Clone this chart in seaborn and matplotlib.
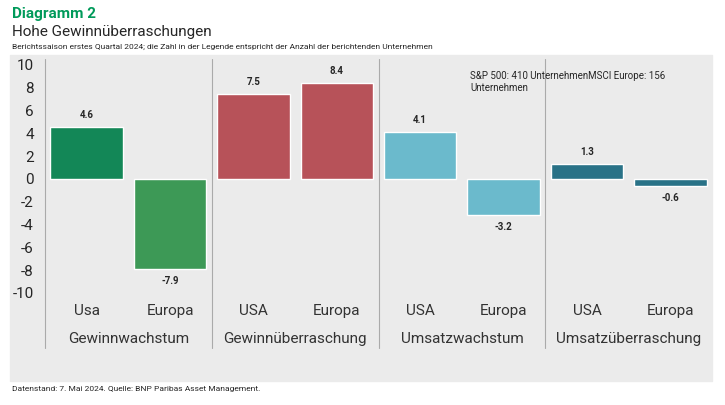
import matplotlib.pyplot as plt
import seaborn as sns
import pandas as pd
from matplotlib.patches import Rectangle

sns.set_style("white")
plt.rcParams["font.family"] = ["Roboto", "DejaVu Sans"]

groups = ["Gewinnwachstum", "Gewinnüberraschung", "Umsatzwachstum", "Umsatzüberraschung"]
regions = ["Usa", "Europa", "USA", "Europa", "USA", "Europa", "USA", "Europa"]
values = [4.6, -7.9, 7.5, 8.4, 4.1, -3.2, 1.3, -0.6]
bar_colors = ["#009a5a", "#2ea84f", "#c8414b", "#c8414b", "#5bc4dc", "#5bc4dc", "#1a7a96", "#1a7a96"]

df = pd.DataFrame({"pos": [str(i) for i in range(len(values))], "value": values})

fig = plt.figure(figsize=(7.25, 4.05), dpi=100)
bg = Rectangle((10 / 725, 1 - 381 / 405), 702 / 725, 326 / 405,
               transform=fig.transFigure, color="#ebebeb", zorder=-10)
fig.add_artist(bg)
ax = fig.add_axes([45 / 725, 1 - 293 / 405, 667 / 725, 228 / 405])
ax.set_facecolor("none")
ax.set_zorder(1)

sns.barplot(data=df, x="pos", y="value", hue="pos", palette=bar_colors,
            legend=False, width=0.87, ax=ax)
ax.set_ylim(-10, 10)
ax.set_xlim(-0.5, 7.5)
ax.set_yticks(range(-10, 11, 2))
ax.set_yticklabels([str(v) for v in range(-10, 11, 2)], fontsize=11)
ax.tick_params(axis="y", length=0, pad=8)
ax.set_xticks([])
ax.set_xlabel("")
ax.set_ylabel("")
for s in ax.spines.values():
    s.set_visible(False)

for i, v in enumerate(values):
    off = 0.6 if v > 0 else -0.6
    ax.text(i, v + off, f"{v:.1f}", ha="center", va="bottom" if v > 0 else "top",
            fontsize=7, fontweight="bold")

# axis line and group dividers extending below
for xv in [-0.5, 1.5, 3.5, 5.5]:
    ax.plot([xv, xv], [10.5, -14.8], color="#aaaaaa", lw=0.8, clip_on=False)

for i, r in enumerate(regions):
    ax.text(i, -11.6, r, ha="center", va="center", fontsize=11, color="#333333")
for g, name in enumerate(groups):
    ax.text(2 * g + 0.5, -14.0, name, ha="center", va="center", fontsize=11, color="#333333")

ax.text(4.6, 8.5, "S&P 500: 410 UnternehmenMSCI Europe: 156\nUnternehmen",
        fontsize=7, va="center", ha="left")

fig.text(12 / 725, 1 - 14 / 405, "Diagramm 2", color="#009a5a", fontsize=11,
         fontweight="bold", va="center")
fig.text(12 / 725, 1 - 32 / 405, "Hohe Gewinnüberraschungen", fontsize=11, va="center")
fig.text(12 / 725, 1 - 47 / 405,
         "Berichtssaison erstes Quartal 2024; die Zahl in der Legende entspricht der Anzahl der berichtenden Unternehmen",
         fontsize=6, va="center")
fig.text(12 / 725, 1 - 389 / 405,
         "Datenstand: 7. Mai 2024. Quelle: BNP Paribas Asset Management.",
         fontsize=6, va="center")

fig.savefig("out.png", dpi=100)
